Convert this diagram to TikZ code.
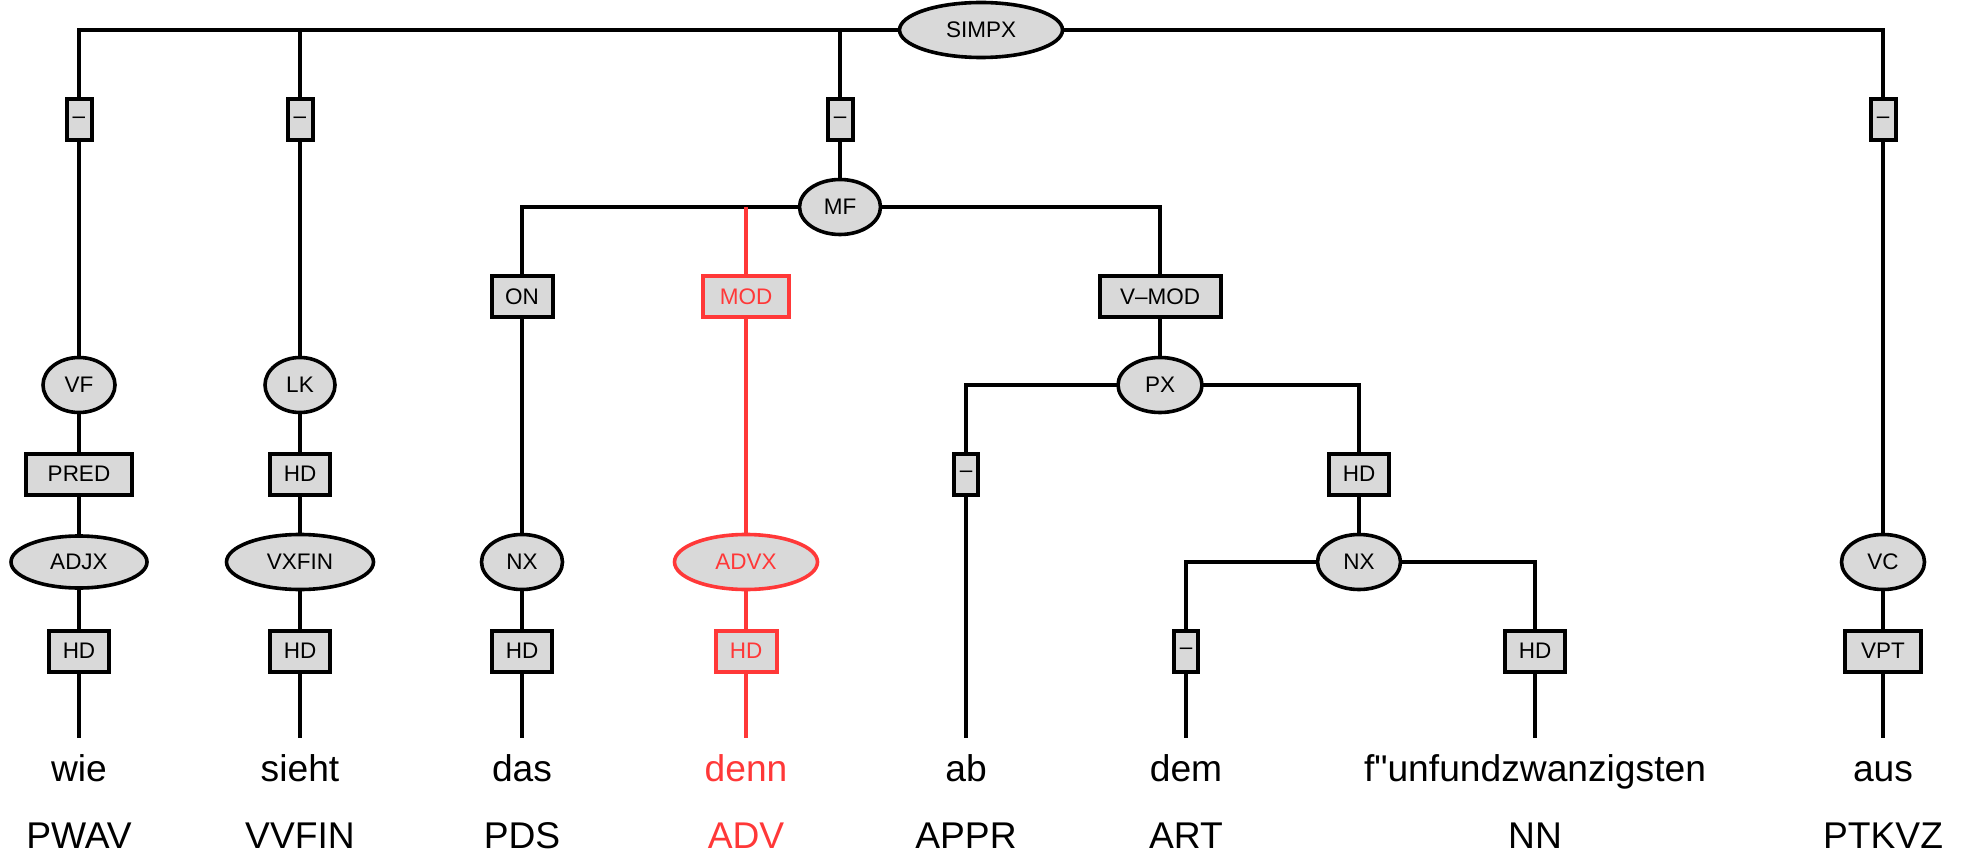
\documentclass[tikz,border=0pt]{standalone}
\usepackage{fontspec}
\setmainfont{Liberation Sans}
% a family without the TeX quote mapping, so that " stays a straight quote
\newfontfamily\plainsans{Liberation Sans}
\usetikzlibrary{shapes.geometric}
\definecolor{nodefill}{RGB}{217,217,217}
\definecolor{hl}{RGB}{255,56,56}
\begin{document}
\begin{tikzpicture}[x=0.5pt,y=-0.5pt,
  link/.style={line width=1.7pt},
  catnode/.style={ellipse, draw, line width=1.8pt, fill=nodefill, inner sep=0pt,
    outer sep=0pt, minimum height=27.5pt, font=\plainsans\fontsize{11.25}{13}\selectfont},
  fnbox/.style={rectangle, draw, line width=2pt, fill=nodefill, inner sep=0pt,
    outer sep=0pt, minimum height=20.5pt, font=\plainsans\fontsize{11.25}{13}\selectfont},
  wordlbl/.style={anchor=base, inner sep=0pt, font=\plainsans\fontsize{18.6}{22}\selectfont},
  hot/.style={draw=hl, text=hl},
]
\useasboundingbox (0,0) rectangle (1962,855);

% root and its topological fields
\node[catnode, minimum width=81.5pt] (simpx) at (981,30) {SIMPX};
\node[fnbox, minimum width=12.5pt] (f1) at (79,120) {–};
\node[fnbox, minimum width=12.5pt] (f2) at (300,120) {–};
\node[fnbox, minimum width=12.5pt] (f3) at (840,120) {–};
\node[fnbox, minimum width=12.5pt] (f4) at (1883,120) {–};

\node[catnode, minimum width=40.5pt] (mf) at (840,207) {MF};
\node[fnbox, minimum width=30.5pt] (on) at (522,297) {ON};
\node[fnbox, hot, minimum width=43pt] (mod) at (746,297) {MOD};
\node[fnbox, minimum width=60.5pt] (vmod) at (1160,297) {V–MOD};

\node[catnode, minimum width=36pt] (vf) at (79,385) {VF};
\node[catnode, minimum width=35pt] (lk) at (300,385) {LK};
\node[catnode, minimum width=42pt] (px) at (1160,385) {PX};

\node[fnbox, minimum width=53pt] (pred) at (79,474) {PRED};
\node[fnbox, minimum width=30pt] (hdlk) at (300,474) {HD};
\node[fnbox, minimum width=12pt] (fpx) at (966,474) {–};
\node[fnbox, minimum width=30pt] (hdpx) at (1359,474) {HD};

\node[catnode, minimum width=68pt, minimum height=26pt] (adjx) at (79,562) {ADJX};
\node[catnode, minimum width=73.5pt] (vxfin) at (300,562) {VXFIN};
\node[catnode, minimum width=40.5pt] (nxa) at (522,562) {NX};
\node[catnode, hot, minimum width=71.5pt] (advx) at (746,562) {ADVX};
\node[catnode, minimum width=41.5pt] (nxb) at (1359,562) {NX};
\node[catnode, minimum width=41.5pt] (vc) at (1883,562) {VC};

\node[fnbox, minimum width=30pt] (hda) at (79,651) {HD};
\node[fnbox, minimum width=30pt] (hdb) at (300,651) {HD};
\node[fnbox, minimum width=30pt] (hdc) at (522,651) {HD};
\node[fnbox, hot, minimum width=30.5pt] (hdd) at (746,651) {HD};
\node[fnbox, minimum width=12pt] (fnx) at (1186,651) {–};
\node[fnbox, minimum width=30pt] (hde) at (1535,651) {HD};
\node[fnbox, minimum width=38pt] (vpt) at (1883,651) {VPT};

% lower ends of the terminal edges
\coordinate (e1) at (79,738);
\coordinate (e2) at (300,738);
\coordinate (e3) at (522,738);
\coordinate (e4) at (746,738);
\coordinate (e5) at (966,738);
\coordinate (e6) at (1186,738);
\coordinate (e7) at (1535,738);
\coordinate (e8) at (1883,738);

% words and part-of-speech tags
\node[wordlbl] (w1) at (79,781) {wie};
\node[wordlbl] (w2) at (300,781) {sieht};
\node[wordlbl] (w3) at (522,781) {das};
\node[wordlbl, text=hl] (w4) at (746,781) {denn};
\node[wordlbl] (w5) at (966,781) {ab};
\node[wordlbl] (w6) at (1186,781) {dem};
\node[wordlbl] (w7) at (1535,781) {f"unfundzwanzigsten};
\node[wordlbl] (w8) at (1883,781) {aus};

\node[wordlbl] (t1) at (79,848) {PWAV};
\node[wordlbl] (t2) at (300,848) {VVFIN};
\node[wordlbl] (t3) at (522,848) {PDS};
\node[wordlbl, text=hl] (t4) at (746,848) {ADV};
\node[wordlbl] (t5) at (966,848) {APPR};
\node[wordlbl] (t6) at (1186,848) {ART};
\node[wordlbl] (t7) at (1535,848) {NN};
\node[wordlbl] (t8) at (1883,848) {PTKVZ};

% tree edges
\draw[link] (simpx) -| (f1);
\draw[link] (simpx) -| (f2);
\draw[link] (simpx) -| (f3);
\draw[link] (simpx) -| (f4);

\draw[link] (f1) -- (vf);
\draw[link] (vf) -- (pred);
\draw[link] (pred) -- (adjx);
\draw[link] (adjx) -- (hda);
\draw[link] (hda) -- (e1);

\draw[link] (f2) -- (lk);
\draw[link] (lk) -- (hdlk);
\draw[link] (hdlk) -- (vxfin);
\draw[link] (vxfin) -- (hdb);
\draw[link] (hdb) -- (e2);

\draw[link] (f3) -- (mf);
\draw[link] (mf) -| (on);
\draw[link] (mf) -| (vmod);
\draw[link] (on) -- (nxa);
\draw[link] (nxa) -- (hdc);
\draw[link] (hdc) -- (e3);

\draw[link, draw=hl] (mod) -- (mod |- mf);
\draw[link, draw=hl] (mod) -- (advx);
\draw[link, draw=hl] (advx) -- (hdd);
\draw[link, draw=hl] (hdd) -- (e4);

\draw[link] (vmod) -- (px);
\draw[link] (px) -| (fpx);
\draw[link] (px) -| (hdpx);
\draw[link] (fpx) -- (e5);
\draw[link] (hdpx) -- (nxb);
\draw[link] (nxb) -| (fnx);
\draw[link] (nxb) -| (hde);
\draw[link] (fnx) -- (e6);
\draw[link] (hde) -- (e7);

\draw[link] (f4) -- (vc);
\draw[link] (vc) -- (vpt);
\draw[link] (vpt) -- (e8);
\end{tikzpicture}
\end{document}
